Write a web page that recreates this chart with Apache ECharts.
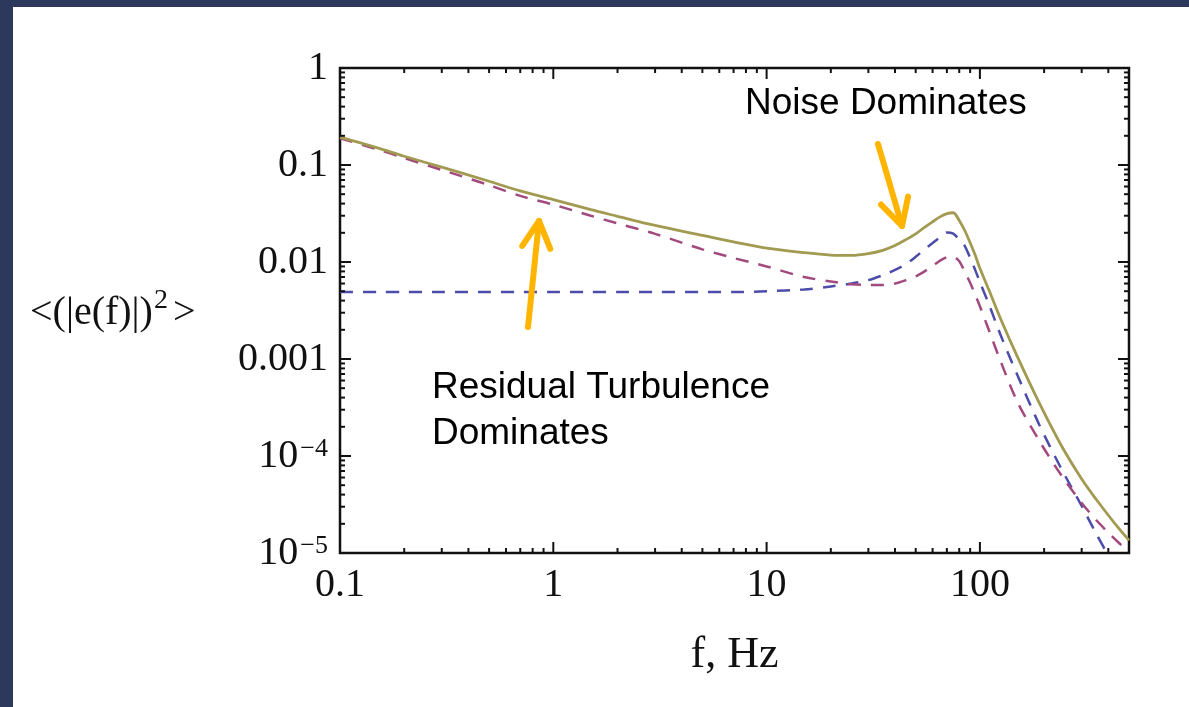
<!DOCTYPE html>
<html>
<head>
<meta charset="utf-8">
<script src="https://cdn.jsdelivr.net/npm/echarts@6/dist/echarts.min.js"></script>
<style>
  html, body { margin: 0; padding: 0; width: 1189px; height: 707px; overflow: hidden; background: #2c395c; }
  #panel { position: absolute; left: 13px; top: 7px; right: 0; bottom: 0; background: #ffffff; }
  #chart { position: absolute; left: 0; top: 0; width: 1189px; height: 707px; }
</style>
</head>
<body>
<div id="panel"></div>
<div id="chart"></div>
<script>
// Frequencies (Hz) at which the three error spectra are sampled
const freq = [0.1, 0.15, 0.2, 0.3, 0.5, 0.7, 1, 1.5, 2, 3, 5, 7, 10, 15, 20, 25, 30, 35, 40, 45,
              50, 55, 60, 65, 70, 75, 80, 85, 90, 95, 100, 110, 125, 150, 190, 240, 300, 350,
              400, 450, 500];

// Residual turbulence contribution (dashed, magenta)
const residualTurbulence = [0.189, 0.145, 0.118, 0.089, 0.062, 0.048, 0.039, 0.030, 0.025, 0.0195,
  0.0135, 0.0110, 0.0090, 0.0070, 0.0063, 0.0059, 0.0058, 0.0058, 0.0060, 0.0065,
  0.0071, 0.0080, 0.0091, 0.0103, 0.0112, 0.0113, 0.0102, 0.0079, 0.0061, 0.0046,
  0.0035, 0.0020, 0.00095, 0.00036, 0.000143, 0.000064, 0.0000328, 0.0000220,
  0.0000162, 0.0000126, 0.0000104];

// Measurement noise contribution (dashed, blue)
const noise = [0.0049, 0.0049, 0.0049, 0.0049, 0.0049, 0.0049, 0.0049, 0.0049, 0.0049, 0.0049,
  0.0049, 0.0049, 0.0050, 0.0052, 0.0056, 0.0060, 0.0065, 0.0073, 0.0083, 0.0095,
  0.0113, 0.0135, 0.0157, 0.0180, 0.0202, 0.0196, 0.0170, 0.0146, 0.0110, 0.0083,
  0.0062, 0.0037, 0.00177, 0.00068, 0.000209, 0.000075, 0.0000305, 0.0000160,
  0.0000094, 0.0000060, 0.0000045];

// Total error spectrum (solid)
const total = [0.194, 0.150, 0.123, 0.095, 0.068, 0.054, 0.044, 0.0346, 0.0296, 0.0238,
  0.0188, 0.0161, 0.0139, 0.0125, 0.0118, 0.0117, 0.0122, 0.0132, 0.0148, 0.0170,
  0.0195, 0.0228, 0.0260, 0.0292, 0.0315, 0.0322, 0.0268, 0.0210, 0.0158, 0.0118,
  0.0086, 0.0052, 0.0026, 0.00105, 0.00035, 0.00013, 0.000058, 0.000036,
  0.0000245, 0.0000177, 0.0000135];

// Axis ranges and tick labels
const xRange = [0.1, 500];
const yRange = [1e-5, 1];
const xTickValues = [0.1, 1, 10, 100];
const xTickLabels = ['0.1', '1', '10', '100'];
const yTickValues = [1e-5, 1e-4, 1e-3, 1e-2, 1e-1, 1];
const yTickLabels = ['10{sup|\u22125}', '10{sup|\u22124}', '0.001', '0.01', '0.1', '1'];

// Minor ticks at 2..9 within each decade
const xMinorTicks = [];
for (let d = -1; d <= 2; d++) {
  for (let m = 2; m <= 9; m++) {
    const v = m * Math.pow(10, d);
    if (v < xRange[1]) xMinorTicks.push(v);
  }
}
const yMinorTicks = [];
for (let d = -5; d <= -1; d++) {
  for (let m = 2; m <= 9; m++) yMinorTicks.push(m * Math.pow(10, d));
}

// Tick marks on all four sides of the frame: [x, y, kind]
const tickItems = [];
xTickValues.forEach(v => tickItems.push([v, yRange[0], 0]));
xMinorTicks.forEach(v => tickItems.push([v, yRange[0], 1]));
yTickValues.forEach(v => tickItems.push([xRange[0], v, 2]));
yMinorTicks.forEach(v => tickItems.push([xRange[0], v, 3]));

function pickLabel(values, labels, v) {
  const e = Math.log10(v);
  for (let i = 0; i < values.length; i++) {
    if (Math.abs(Math.log10(values[i]) - e) < 1e-6) return labels[i];
  }
  return '';
}

const serif = '"Liberation Serif", "DejaVu Serif", serif';
const sans = '"Liberation Sans", Arial, sans-serif';
const INK = '#111111';
const ORANGE = '#ffb400';

function arrow(tail, tip) {
  const dx = tip[0] - tail[0], dy = tip[1] - tail[1];
  const len = Math.hypot(dx, dy);
  const bx = -dx / len, by = -dy / len;
  const a = 28 * Math.PI / 180, w = 30;
  const c = Math.cos(a), s = Math.sin(a);
  const w1 = [tip[0] + w * (bx * c - by * s), tip[1] + w * (bx * s + by * c)];
  const w2 = [tip[0] + w * (bx * c + by * s), tip[1] + w * (-bx * s + by * c)];
  const st = { stroke: ORANGE, lineWidth: 6, lineCap: 'round', lineJoin: 'round', fill: null };
  return [
    { type: 'polyline', shape: { points: [tail, tip] }, style: st, z: 10 },
    { type: 'polyline', shape: { points: [w1, tip, w2] }, style: st, z: 10 }
  ];
}

const chart = echarts.init(document.getElementById('chart'), null, { renderer: 'canvas' });

const option = {
  animation: false,
  backgroundColor: 'transparent',
  grid: {
    left: 340, top: 68, right: 60, bottom: 154,
    show: true, borderColor: INK, borderWidth: 2.5, backgroundColor: 'transparent'
  },
  xAxis: {
    type: 'log', logBase: 10, min: xRange[0], max: xRange[1],
    axisLine: { show: false }, axisTick: { show: false }, splitLine: { show: false },
    axisLabel: {
      margin: 12, fontFamily: serif, fontSize: 40, color: INK,
      showMaxLabel: false,
      formatter: v => pickLabel(xTickValues, xTickLabels, v)
    },
    name: 'f, Hz', nameLocation: 'middle', nameGap: 80,
    nameTextStyle: { fontFamily: serif, fontSize: 44, color: INK }
  },
  yAxis: {
    type: 'log', logBase: 10, min: yRange[0], max: yRange[1],
    axisLine: { show: false }, axisTick: { show: false }, splitLine: { show: false },
    axisLabel: {
      margin: 12, fontFamily: serif, fontSize: 40, color: INK,
      formatter: v => pickLabel(yTickValues, yTickLabels, v),
      rich: {
        sup: { fontFamily: serif, fontSize: 26, color: INK, verticalAlign: 'top', padding: [0, 0, 14, 2] }
      }
    }
  },
  series: [
    {
      name: 'noise', type: 'line', showSymbol: false, smooth: 0.3, z: 3,
      data: freq.map((f, i) => [f, noise[i]]),
      lineStyle: { color: '#4c4cab', width: 2.5, type: [13, 10] }
    },
    {
      name: 'residual turbulence', type: 'line', showSymbol: false, smooth: 0.3, z: 3,
      data: freq.map((f, i) => [f, residualTurbulence[i]]),
      lineStyle: { color: '#a24a7e', width: 2.5, type: [13, 10] }
    },
    {
      name: 'total', type: 'line', showSymbol: false, smooth: 0.3, z: 4,
      data: freq.map((f, i) => [f, total[i]]),
      lineStyle: { color: '#a29a50', width: 2.8 }
    },
    {
      name: 'frame ticks', type: 'custom', clip: false, silent: true, z: 6,
      encode: { x: 0, y: 1 },
      data: tickItems,
      renderItem: function (params, api) {
        const cs = params.coordSys;
        const kind = api.value(2);
        const p = api.coord([api.value(0), api.value(1)]);
        const style = { stroke: INK, lineWidth: 2 };
        if (kind < 2) {
          const len = kind === 0 ? 11 : 5;
          const x = p[0];
          const yb = cs.y + cs.height, yt = cs.y;
          return { type: 'group', children: [
            { type: 'line', shape: { x1: x, y1: yb, x2: x, y2: yb - len }, style: style },
            { type: 'line', shape: { x1: x, y1: yt, x2: x, y2: yt + len }, style: style }
          ] };
        }
        const len = kind === 2 ? 11 : 5;
        const y = p[1];
        const xl = cs.x, xr = cs.x + cs.width;
        return { type: 'group', children: [
          { type: 'line', shape: { x1: xl, y1: y, x2: xl + len, y2: y }, style: style },
          { type: 'line', shape: { x1: xr, y1: y, x2: xr - len, y2: y }, style: style }
        ] };
      }
    }
  ],
  graphic: [
    {
      type: 'text', left: 30, top: 287, z: 10,
      style: {
        text: '{a|<}{b|(|e(f)|)}{s|2}{c|>}', fill: INK,
        font: '40px ' + serif,
        rich: {
          a: { fontFamily: serif, fontSize: 40, fill: INK },
          b: { fontFamily: serif, fontSize: 40, fill: INK },
          s: { fontFamily: serif, fontSize: 28, fill: INK, verticalAlign: 'top', padding: [0, 0, 24, 1] },
          c: { fontFamily: serif, fontSize: 40, fill: INK, padding: [0, 0, 0, 5] }
        }
      }
    },
    {
      type: 'text', left: 745, top: 85, z: 10,
      style: { text: 'Noise Dominates', fill: '#000', font: '37px ' + sans }
    },
    {
      type: 'text', left: 432, top: 365, z: 10,
      style: { text: 'Residual Turbulence\nDominates', fill: '#000', font: '37px ' + sans, lineHeight: 46 }
    },
    ...arrow([528, 327], [539, 221]),
    ...arrow([878, 144], [902, 226])
  ]
};

chart.setOption(option);
</script>
</body>
</html>
